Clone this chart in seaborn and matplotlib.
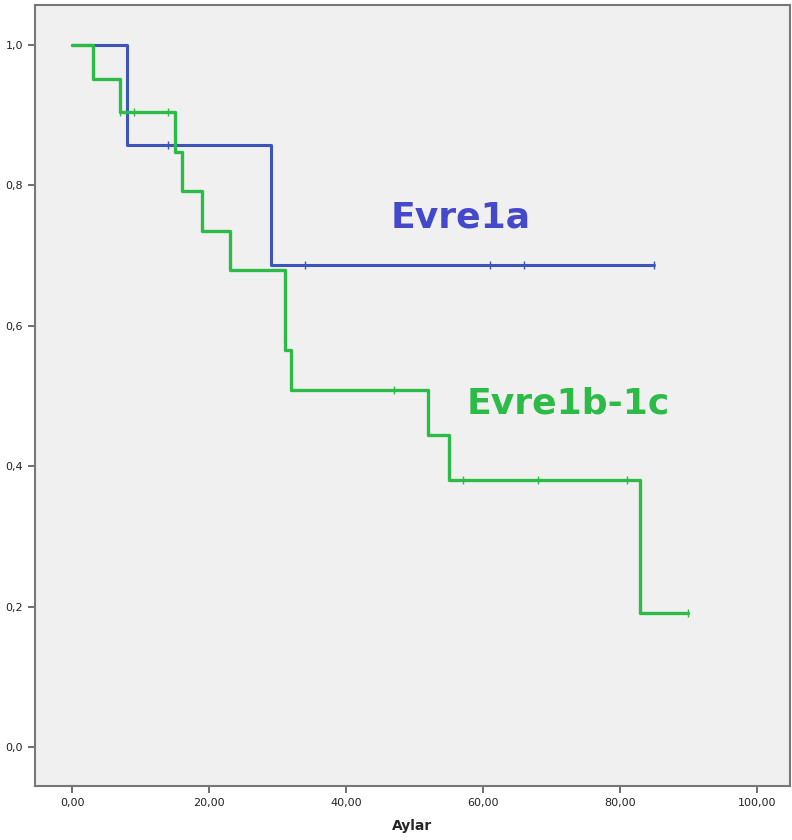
import pandas as pd
import matplotlib
matplotlib.use("Agg")
import matplotlib.pyplot as plt
import seaborn as sns

# Evre1a - basamak zamanlari ve sagkalim
a_zaman = [0, 8, 29, 85]
a_sagkalim = [1.0, 0.857, 0.686, 0.686]
a_sansur_zaman = [14, 34, 61, 66, 85]
a_sansur_deger = [0.857, 0.686, 0.686, 0.686, 0.686]

# Evre1b-1c
b_zaman = [0, 3, 7, 15, 16, 19, 23, 31, 32, 52, 55, 83, 90]
b_sagkalim = [1.0, 0.952, 0.905, 0.848, 0.792, 0.735, 0.679, 0.566, 0.509, 0.445, 0.381, 0.191, 0.191]
b_sansur_zaman = [7, 9, 14, 47, 57, 68, 81, 90]
b_sansur_deger = [0.905, 0.905, 0.905, 0.509, 0.381, 0.381, 0.381, 0.191]

x_ticks = [0, 20, 40, 60, 80, 100]
x_tick_labels = ["0,00", "20,00", "40,00", "60,00", "80,00", "100,00"]
y_ticks = [0.0, 0.2, 0.4, 0.6, 0.8, 1.0]
y_tick_labels = ["0,0", "0,2", "0,4", "0,6", "0,8", "1,0"]

mavi = "#3D55BA"
yesil = "#2DBB48"

sns.set_style("white")
fig = plt.figure(figsize=(7.92, 8.4), dpi=100)
ax = fig.add_axes([0.044, 0.064, 0.953, 0.93])
ax.set_facecolor("#F0F0F0")

df_a = pd.DataFrame({"zaman": a_zaman, "sagkalim": a_sagkalim})
df_b = pd.DataFrame({"zaman": b_zaman, "sagkalim": b_sagkalim})

sns.lineplot(data=df_a, x="zaman", y="sagkalim", estimator=None, drawstyle="steps-post",
             color=mavi, linewidth=2.2, ax=ax)
sns.scatterplot(x=a_sansur_zaman, y=a_sansur_deger, marker="|", s=40, linewidth=1.0,
                color=mavi, ax=ax, zorder=3)
sns.lineplot(data=df_b, x="zaman", y="sagkalim", estimator=None, drawstyle="steps-post",
             color=yesil, linewidth=2.4, ax=ax)
sns.scatterplot(x=b_sansur_zaman, y=b_sansur_deger, marker="|", s=40, linewidth=1.0,
                color=yesil, ax=ax, zorder=3)

ax.text(56.8, 0.755, "Evre1a", color="#4449CC", fontsize=26, fontweight="bold",
        ha="center", va="center")
ax.text(72.4, 0.490, "Evre1b-1c", color=yesil, fontsize=26, fontweight="bold",
        ha="center", va="center")

ax.set_xlim(-5.5, 104.8)
ax.set_ylim(-0.056, 1.057)
ax.set_xticks(x_ticks)
ax.set_xticklabels(x_tick_labels, fontsize=8)
ax.set_yticks(y_ticks)
ax.set_yticklabels(y_tick_labels, fontsize=8)
ax.tick_params(bottom=True, left=True, direction="out", length=5, width=1.2,
               color="#555555", labelcolor="#222222")
ax.set_xlabel("Aylar", fontsize=10, fontweight="bold", labelpad=8)
ax.set_ylabel("")
for s in ax.spines.values():
    s.set_color("#777777")
    s.set_linewidth(1.5)

fig.savefig("out.png", dpi=100)
